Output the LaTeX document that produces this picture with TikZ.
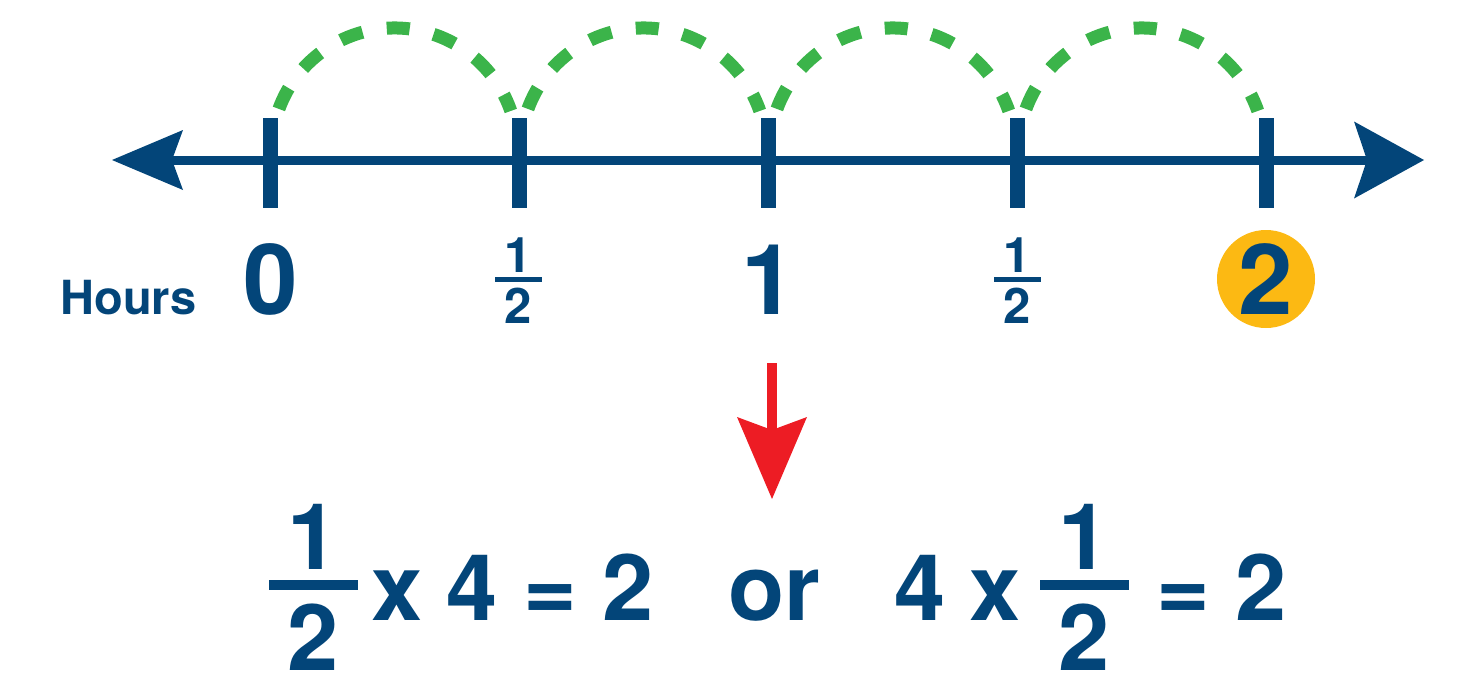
\documentclass[tikz,border=0pt]{standalone}
\usepackage{fontspec}
\setmainfont{TeX Gyre Heros}
\usepackage{xcolor}
\usetikzlibrary{arrows.meta, positioning, calc}
\definecolor{lineblue}{RGB}{3, 69, 121}
\definecolor{hopgreen}{RGB}{59, 180, 74}
\definecolor{arrowred}{RGB}{237, 28, 36}
\definecolor{markyellow}{RGB}{252, 185, 19}

\begin{document}
\begin{tikzpicture}[x=1pt, y=1pt,
    tickmark/.style={fill=lineblue, minimum width=15pt, minimum height=90pt, inner sep=0pt},
    hop/.style={draw=hopgreen, line width=13pt, dash pattern=on 23pt off 24.5pt},
    axis/.style={draw=lineblue, line width=9pt,
                 arrows={Stealth[length=71pt, width=60pt, inset=11pt, line width=0pt]-Stealth[length=70pt, width=77pt, inset=13pt, line width=0pt]}},
    downarrow/.style={draw=arrowred, line width=10pt,
                 -{Stealth[length=82pt, width=70pt, inset=13pt, line width=0pt]}},
    biglbl/.style={text=lineblue, font=\fontsize{98}{98}\selectfont\bfseries, inner sep=0pt, anchor=base},
    halflbl/.style={text=lineblue, font=\fontsize{49}{49}\selectfont\bfseries, inner sep=0pt, anchor=base},
    eqlbl/.style={text=lineblue, font=\fontsize{92}{92}\selectfont\bfseries, inner sep=0pt, anchor=base},
    fracbar/.style={fill=lineblue, inner sep=0pt}
]
    \useasboundingbox (0,0) rectangle (1462,-678);

    \coordinate (axleft) at (112,-160);
    \coordinate (axright) at (1424,-160);
    \draw[axis] (axleft) -- (axright);

    \foreach \x [count=\i from 0] in {270,519,768,1017,1266} {
        \coordinate (p\i) at (\x,-160);
        \node[tickmark] (t\i) at (\x,-163) {};
    }

    \foreach \a/\b in {0/1, 1/2, 2/3, 3/4}
        \draw[hop] ($(p\a)!0.5!(p\b)+(0,9)$) ++(160:123) arc[start angle=160, end angle=19, radius=123];

    \node[halflbl, font=\fontsize{47}{47}\selectfont\bfseries] (hours) at (128.5,-314) {Hours};
    \node[biglbl] (zero) at (271,-314) {0};
    \node[biglbl] (one) at (769,-314) {1};
    \node[biglbl, circle, fill=markyellow, minimum size=98pt, anchor=center] (two) at (1266,-279) {2};

    \node[fracbar, minimum width=47pt, minimum height=5pt] (barA) at (518.5,-279.5) {};
    \node[halflbl] (numA) at ($(barA.center)+(0,7.5)$) {1};
    \node[halflbl] (denA) at ($(barA.center)+(0,-43.5)$) {2};
    \node[fracbar, minimum width=47pt, minimum height=5pt] (barB) at (1017.5,-279.5) {};
    \node[halflbl] (numB) at ($(barB.center)+(0,7.5)$) {1};
    \node[halflbl] (denB) at ($(barB.center)+(0,-43.5)$) {2};

    \coordinate (arrtop) at (772,-363);
    \coordinate (arrtip) at (772,-499);
    \draw[downarrow] (arrtop) -- (arrtip);

    \node[fracbar, minimum width=89pt, minimum height=10pt] (barL) at (313.5,-585) {};
    \node[eqlbl] (numL) at ($(barL.center)+(0,16)$) {1};
    \node[eqlbl] (denL) at ($(barL.center)+(0,-85)$) {2};
    \node[eqlbl] (timesL) at (397,-620) {x};
    \node[eqlbl] (fourL) at (472,-620) {4};
    \node[eqlbl] (eqL) at (550,-620) {=};
    \node[eqlbl] (resL) at (628.5,-620) {2};

    \node[eqlbl] (or) at (774,-620) {or};

    \node[eqlbl] (fourR) at (920,-620) {4};
    \node[eqlbl] (timesR) at (995,-620) {x};
    \node[fracbar, minimum width=89pt, minimum height=10pt] (barR) at (1084.5,-585) {};
    \node[eqlbl] (numR) at ($(barR.center)+(0,16)$) {1};
    \node[eqlbl] (denR) at ($(barR.center)+(0,-85)$) {2};
    \node[eqlbl] (eqR) at (1183,-620) {=};
    \node[eqlbl] (resR) at (1261.5,-620) {2};
\end{tikzpicture}
\end{document}
